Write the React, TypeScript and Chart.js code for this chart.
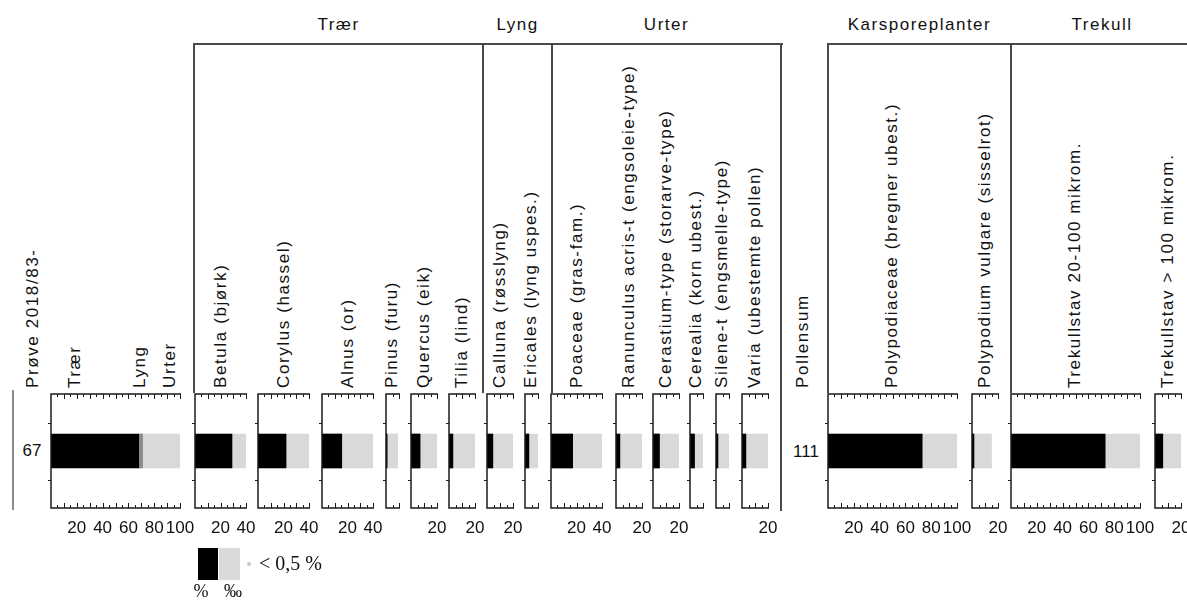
import React, { useEffect, useRef } from 'react';
import { Chart, registerables } from 'chart.js';

Chart.register(...registerables);

// ---------------- DATA ----------------
const sampleLabels = ['67'];
const pollenSum = ['111'];
const sumCategories = ['Trær', 'Lyng', 'Urter'];
const sumValues = [68, 3, 29];

const taxa = [
  'Betula (bjørk)',
  'Corylus (hassel)',
  'Alnus (or)',
  'Pinus (furu)',
  'Quercus (eik)',
  'Tilia (lind)',
  'Calluna (røsslyng)',
  'Ericales (lyng uspes.)',
  'Poaceae (gras-fam.)',
  'Ranunculus acris-t (engsoleie-type)',
  'Cerastium-type (storarve-type)',
  'Cerealia (korn ubest.)',
  'Silene-t (engsmelle-type)',
  'Varia (ubestemte pollen)',
  'Polypodiaceae (bregner ubest.)',
  'Polypodium vulgare (sisselrot)',
  'Trekullstav 20-100 mikrom.',
  'Trekullstav > 100 mikrom.',
];
const taxonValues = [29, 22, 15.5, 0.9, 7, 3, 4.5, 3, 17, 3, 5, 3.5, 1.5, 3, 73, 1.5, 73, 6];
const taxonAxisMax = [40, 40, 40, 10, 20, 20, 20, 10, 40, 20, 20, 10, 10, 20, 100, 20, 100, 20];
const EXAGGERATION = 10;

const groupNames = ['Trær', 'Lyng', 'Urter', 'Karsporeplanter', 'Trekull'];
const legendText = ['< 0,5 %', '%', '‰'];

// ---------------- LAYOUT ----------------
const PX_PER_UNIT = 1.285;
const AXIS_TOP = 394;
const AXIS_H = 114;
const PAD_L = 8;
const PAD_R = 24;
const PAD_T = 4;
const PAD_B = 36;
const sumLeft = 51;
const panelLeft = [195, 258, 322, 386, 411, 449, 487, 525, 551, 616, 653, 690, 716, 742, 828, 972, 1011, 1155];
const groupBounds = [
  [194, 483],
  [483, 552],
  [552, 781],
  [828, 1011],
  [1011, 1193],
];
const BRACKET_Y = 44;
const LABEL_BOTTOM = 388;
const LABEL_LH = 20;
const FONT = '"Liberation Sans", Arial, Helvetica, sans-serif';
const SERIF = '"Liberation Serif", "Times New Roman", serif';
const LIGHT = '#d9d9d9';

const axisPlugin = {
  id: 'pollenAxes',
  afterDatasetsDraw(chart: any) {
    const { ctx, chartArea: a, scales } = chart;
    const x = scales.x;
    const max = x.max;
    const x0 = x.getPixelForValue(0);
    const x1 = x.getPixelForValue(max);
    ctx.save();
    ctx.strokeStyle = '#1a1a1a';
    ctx.lineWidth = 1.5;
    ctx.beginPath();
    ctx.moveTo(x0, a.top);
    ctx.lineTo(x1 + 1, a.top);
    ctx.moveTo(x0, a.bottom);
    ctx.lineTo(x1 + 1, a.bottom);
    ctx.moveTo(x0, a.top - 0.75);
    ctx.lineTo(x0, a.bottom + 0.75);
    ctx.stroke();
    ctx.lineWidth = 1;
    ctx.beginPath();
    for (let v = 5; v <= max + 0.001; v += 5) {
      const px = Math.round(x.getPixelForValue(v)) + 0.5;
      const len = v % 10 === 0 ? 5 : 3;
      ctx.moveTo(px, a.top);
      ctx.lineTo(px, a.top + len);
      ctx.moveTo(px, a.bottom);
      ctx.lineTo(px, a.bottom - len);
    }
    for (const f of [0.25, 0.75]) {
      const y = Math.round(a.top + f * (a.bottom - a.top)) + 0.5;
      ctx.moveTo(x0, y);
      ctx.lineTo(x0 - 3, y);
    }
    ctx.stroke();
    ctx.fillStyle = '#111';
    ctx.font = `17px ${FONT}`;
    ctx.textAlign = 'center';
    ctx.textBaseline = 'middle';
    for (let v = 20; v <= max + 0.001; v += 20) {
      ctx.fillText(String(v), x.getPixelForValue(v), a.bottom + 20);
    }
    ctx.restore();
  },
};

function PanelChart({ left, max, datasets, stacked }: { left: number; max: number; datasets: any[]; stacked: boolean }) {
  const ref = useRef<HTMLCanvasElement>(null);
  const w = Math.round(max * PX_PER_UNIT) + PAD_L + PAD_R;
  const h = AXIS_H + PAD_T + PAD_B;
  useEffect(() => {
    if (!ref.current) return;
    const chart = new Chart(ref.current, {
      type: 'bar',
      data: { labels: sampleLabels, datasets },
      options: {
        indexAxis: 'y',
        animation: false,
        responsive: false,
        maintainAspectRatio: false,
        layout: { padding: { left: PAD_L, right: PAD_R, top: PAD_T, bottom: PAD_B } },
        scales: {
          x: { type: 'linear', min: 0, max, display: false, stacked },
          y: { display: false, stacked },
        },
        plugins: { legend: { display: false }, tooltip: { enabled: false } },
      } as any,
      plugins: [axisPlugin],
    });
    return () => chart.destroy();
  }, []);
  return (
    <canvas
      ref={ref}
      width={w}
      height={h}
      style={{ position: 'absolute', left: left - PAD_L, top: AXIS_TOP - PAD_T, width: w, height: h }}
    />
  );
}

function VLabel({ x, text }: { x: number; text: string }) {
  return (
    <div style={{ position: 'absolute', left: x + LABEL_LH / 2, top: LABEL_BOTTOM, width: 0, height: 0 }}>
      <div
        style={{
          position: 'absolute',
          left: 0,
          bottom: 0,
          transformOrigin: '0 100%',
          transform: 'rotate(-90deg)',
          whiteSpace: 'nowrap',
          lineHeight: `${LABEL_LH}px`,
          fontSize: 17,
          letterSpacing: '1.6px',
          fontFamily: FONT,
          color: '#111',
        }}
      >
        {text}
      </div>
    </div>
  );
}

function Line({ x, y, w, h, color = '#4a4a4a' }: { x: number; y: number; w: number; h: number; color?: string }) {
  return <div style={{ position: 'absolute', left: x, top: y, width: w, height: h, background: color }} />;
}

export default function App() {
  const sumDatasets = sumCategories.map((c, i) => ({
    label: c,
    data: [sumValues[i]],
    backgroundColor: ['#000000', '#8c8c8c', LIGHT][i],
    borderWidth: 0,
    barThickness: 34,
  }));

  const sumLabelX = [sumLeft + 24, sumLeft + 89, sumLeft + 119];

  return (
    <div
      style={{
        position: 'fixed',
        left: 0,
        top: 0,
        width: 1187,
        height: 601,
        overflow: 'hidden',
        background: '#fff',
        fontFamily: FONT,
      }}
    >
      {/* group headers and brackets */}
      {groupNames.map((g, i) => {
        const [a, b] = groupBounds[i];
        return (
          <div
            key={g}
            style={{
              position: 'absolute',
              left: (a + b) / 2,
              top: 14,
              transform: 'translateX(-50%)',
              fontSize: 17,
              letterSpacing: '1.5px',
              lineHeight: '22px',
              whiteSpace: 'nowrap',
              color: '#111',
            }}
          >
            {g}
          </div>
        );
      })}
      <Line x={194} y={BRACKET_Y - 1} w={781 - 194 + 2} h={2} />
      <Line x={828} y={BRACKET_Y - 1} w={1193 - 828} h={2} />
      {groupBounds.map(([a], i) => (
        <Line key={'v' + i} x={a - 1} y={BRACKET_Y - 1} w={2} h={AXIS_TOP - BRACKET_Y} />
      ))}
      <Line x={780} y={BRACKET_Y - 1} w={2} h={512 - BRACKET_Y} />
      <Line x={12} y={390} w={2} h={120} color="#8a8a8a" />

      {/* column labels */}
      <VLabel x={33} text="Prøve 2018/83-" />
      {sumCategories.map((c, i) => (
        <VLabel key={c} x={sumLabelX[i]} text={c} />
      ))}
      {taxa.map((t, i) => (
        <VLabel key={t} x={panelLeft[i] + (taxonAxisMax[i] * PX_PER_UNIT) / 2} text={t} />
      ))}
      <VLabel x={803} text="Pollensum" />

      {/* sample and pollen sum */}
      <div style={{ position: 'absolute', left: 32, top: 451, transform: 'translate(-50%,-50%)', fontSize: 17, color: '#111' }}>
        {sampleLabels[0]}
      </div>
      <div style={{ position: 'absolute', left: 806, top: 452, transform: 'translate(-50%,-50%)', fontSize: 17, color: '#111' }}>
        {pollenSum[0]}
      </div>

      {/* panels */}
      <PanelChart left={sumLeft} max={100} datasets={sumDatasets} stacked={true} />
      {taxa.map((t, i) => (
        <PanelChart
          key={t}
          left={panelLeft[i]}
          max={taxonAxisMax[i]}
          stacked={false}
          datasets={[
            {
              label: t,
              data: [taxonValues[i]],
              backgroundColor: '#000000',
              borderWidth: 0,
              barThickness: 34,
              grouped: false,
              order: 0,
            },
            {
              label: t + ' x10',
              data: [taxonValues[i] * EXAGGERATION],
              backgroundColor: LIGHT,
              borderWidth: 0,
              barThickness: 34,
              grouped: false,
              order: 1,
            },
          ]}
        />
      ))}

      {/* legend */}
      <div style={{ position: 'absolute', left: 198, top: 548, width: 20, height: 32, background: '#000' }} />
      <div style={{ position: 'absolute', left: 219, top: 548, width: 21, height: 32, background: LIGHT }} />
      <div style={{ position: 'absolute', left: 247, top: 562, width: 4, height: 4, borderRadius: 2, background: '#c8c8c8' }} />
      <div
        style={{
          position: 'absolute',
          left: 259,
          top: 563,
          transform: 'translateY(-50%)',
          fontFamily: SERIF,
          fontSize: 20,
          whiteSpace: 'nowrap',
          color: '#111',
        }}
      >
        {legendText[0]}
      </div>
      <div
        style={{
          position: 'absolute',
          left: 201,
          top: 591,
          transform: 'translate(-50%,-50%)',
          fontFamily: SERIF,
          fontSize: 18,
          color: '#111',
        }}
      >
        {legendText[1]}
      </div>
      <div
        style={{
          position: 'absolute',
          left: 233,
          top: 591,
          transform: 'translate(-50%,-50%)',
          fontFamily: SERIF,
          fontSize: 18,
          color: '#111',
        }}
      >
        {legendText[2]}
      </div>
    </div>
  );
}
